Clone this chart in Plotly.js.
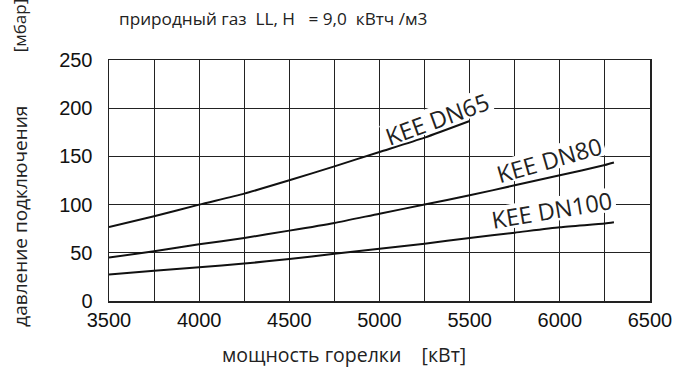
<!DOCTYPE html>
<html><head><meta charset="utf-8">
<script src="https://cdn.plot.ly/plotly-3.0.1.min.js"></script>
<style>html,body{margin:0;padding:0;background:#fff;}#chart{width:675px;height:379px;}</style>
</head><body><div id="chart"></div>
<script>
const power65 = [3500, 3750, 4000, 4250, 4500, 4750, 5000, 5250, 5500];
const dn65 = [76.8, 87.9, 100, 111.4, 125.2, 139.7, 154.6, 169.5, 186.7];
const power80 = [3500, 3750, 4000, 4250, 4500, 4750, 5000, 5250, 5500, 5750, 6000, 6250, 6300];
const dn80 = [45, 51.6, 58.8, 65.4, 73, 81, 90.6, 100, 109.6, 120, 130.4, 141, 143.6];
const power100 = [3500, 3750, 4000, 4250, 4500, 4750, 5000, 5250, 5500, 5750, 6000, 6250, 6300];
const dn100 = [27.4, 31.5, 35, 38.8, 43.6, 49, 54.3, 59.5, 65.4, 70.9, 76.5, 80.3, 81.6];
const labels = ["KEE DN65", "KEE DN80", "KEE DN100"];
const labelX = [5320, 5940, 5957];
const labelY = [189, 146.5, 94];
const labelAngle = [-20, -16, -9.5];
const labelHalfWidth = [57, 57, 64];

const lineStyle = {color: '#111', width: 2, shape: 'spline', smoothing: 0.6};
const traces = [
  {x: power65, y: dn65, mode: 'lines', line: lineStyle, hoverinfo: 'skip'},
  {x: power80, y: dn80, mode: 'lines', line: lineStyle, hoverinfo: 'skip'},
  {x: power100, y: dn100, mode: 'lines', line: lineStyle, hoverinfo: 'skip'}
];
const annotations = labels.map((t, i) => ({
  x: labelX[i], y: labelY[i], xref: 'x', yref: 'y', text: t, showarrow: false,
  textangle: labelAngle[i],
  font: {family: 'Open Sans, sans-serif', size: 23.5, color: '#222'}
}));
// white backing boxes behind labels (between grid and curves)
const shapes = labels.map((t, i) => {
  const a = -labelAngle[i] * Math.PI / 180;
  const hw = labelHalfWidth[i], hh = 12, off = 1;
  const dx = Math.cos(a), dy = Math.sin(a), px = -Math.sin(a), py = Math.cos(a);
  const pts = [[-hw, -hh + off], [hw, -hh + off], [hw, hh + off], [-hw, hh + off]].map(([u, v]) =>
    [u * dx + v * px, u * dy + v * py]);
  const path = 'M' + pts.map(p => p[0].toFixed(1) + ',' + p[1].toFixed(1)).join('L') + 'Z';
  return {type: 'path', xref: 'x', yref: 'y', xsizemode: 'pixel', ysizemode: 'pixel',
    xanchor: labelX[i], yanchor: labelY[i], path: path, fillcolor: '#fff',
    line: {width: 0}, layer: 'between'};
});
const txt = (size) => ({family: 'Open Sans, sans-serif', size: size, color: '#222'});
annotations.push({
  xref: 'paper', yref: 'paper', x: 0.014, y: 1.174, xanchor: 'left', yanchor: 'middle',
  text: 'природный газ  LL, H   = 9,0  кВтч /м3', showarrow: false, font: txt(17.2)
});
annotations.push({
  xref: 'paper', yref: 'paper', x: -0.165, y: 0.353, xanchor: 'center', yanchor: 'middle',
  text: 'давление подключения', textangle: -90, showarrow: false, font: txt(19)
});
annotations.push({
  xref: 'paper', yref: 'paper', x: -0.165, y: 1.143, xanchor: 'center', yanchor: 'middle',
  text: '[мбар]', textangle: -90, showarrow: false, font: txt(17)
});
annotations.push({
  xref: 'paper', yref: 'paper', x: 0.434, y: -0.224, xanchor: 'center', yanchor: 'middle',
  text: 'мощность горелки    [кВт]', showarrow: false, font: txt(19.5)
});

const tickFont = {family: 'Liberation Sans, Arial, sans-serif', size: 20, color: '#111'};
const layout = {
  width: 675, height: 379,
  margin: {l: 109, r: 25, t: 60, b: 78},
  paper_bgcolor: '#fff', plot_bgcolor: '#fff',
  showlegend: false,
  xaxis: {
    range: [3500, 6500], dtick: 500, tick0: 3500, showgrid: true, gridcolor: '#222', gridwidth: 1,
    minor: {dtick: 250, showgrid: true, gridcolor: '#222', gridwidth: 1},
    showline: true, linecolor: '#222', linewidth: 1.5, mirror: true, zeroline: false,
    ticks: '', tickfont: tickFont
  },
  yaxis: {
    range: [0, 250], dtick: 50, showgrid: true, gridcolor: '#222', gridwidth: 1,
    showline: true, linecolor: '#222', linewidth: 1.5, mirror: true, zeroline: false,
    ticks: '', ticklabelstandoff: 11, tickfont: tickFont
  },
  shapes: shapes,
  annotations: annotations
};
Plotly.newPlot('chart', traces, layout, {staticPlot: true, displayModeBar: false});
</script></body></html>
